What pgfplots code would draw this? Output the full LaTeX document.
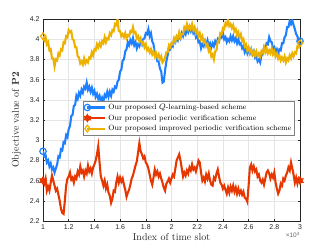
\documentclass[border=0pt]{standalone}
\usepackage{pgfplots}
\pgfplotsset{compat=1.18}
\usepackage{fontspec}
\newfontfamily\ticksf{Liberation Sans}
\definecolor{qblue}{RGB}{30,128,255}
\definecolor{pred}{RGB}{230,55,0}
\definecolor{iyel}{RGB}{237,177,0}
\definecolor{axgray}{RGB}{38,38,38}
\pgfdeclareplotmark{hexa}{%
  \pgfpathmoveto{\pgfpointpolar{90}{\pgfplotmarksize}}%
  \pgfpathlineto{\pgfpointpolar{120}{0.577\pgfplotmarksize}}%
  \pgfpathlineto{\pgfpointpolar{150}{\pgfplotmarksize}}%
  \pgfpathlineto{\pgfpointpolar{180}{0.577\pgfplotmarksize}}%
  \pgfpathlineto{\pgfpointpolar{210}{\pgfplotmarksize}}%
  \pgfpathlineto{\pgfpointpolar{240}{0.577\pgfplotmarksize}}%
  \pgfpathlineto{\pgfpointpolar{270}{\pgfplotmarksize}}%
  \pgfpathlineto{\pgfpointpolar{300}{0.577\pgfplotmarksize}}%
  \pgfpathlineto{\pgfpointpolar{330}{\pgfplotmarksize}}%
  \pgfpathlineto{\pgfpointpolar{0}{0.577\pgfplotmarksize}}%
  \pgfpathlineto{\pgfpointpolar{30}{\pgfplotmarksize}}%
  \pgfpathlineto{\pgfpointpolar{60}{0.577\pgfplotmarksize}}%
  \pgfpathclose\pgfusepathqfillstroke}
\pgfplotstableread{
x y
1.00 2.89
1.01 2.84
1.02 2.85
1.03 2.78
1.04 2.80
1.05 2.74
1.06 2.77
1.07 2.71
1.08 2.73
1.09 2.68
1.10 2.72
1.11 2.76
1.12 2.84
1.13 2.83
1.14 2.91
1.15 2.90
1.16 2.98
1.17 2.97
1.18 3.05
1.19 3.03
1.20 3.11
1.21 3.14
1.22 3.24
1.23 3.25
1.24 3.34
1.25 3.35
1.26 3.44
1.27 3.41
1.28 3.47
1.29 3.44
1.30 3.50
1.31 3.47
1.32 3.53
1.33 3.51
1.34 3.57
1.35 3.50
1.36 3.53
1.37 3.48
1.38 3.52
1.39 3.46
1.40 3.49
1.41 3.43
1.42 3.46
1.43 3.41
1.44 3.44
1.45 3.38
1.46 3.42
1.47 3.38
1.48 3.45
1.49 3.43
1.50 3.48
1.51 3.43
1.52 3.48
1.53 3.44
1.54 3.50
1.55 3.48
1.56 3.53
1.57 3.52
1.58 3.58
1.59 3.60
1.60 3.68
1.61 3.70
1.62 3.79
1.63 3.80
1.64 3.88
1.65 3.90
1.66 3.97
1.67 3.94
1.68 3.99
1.69 3.96
1.70 4.01
1.71 3.94
1.72 3.97
1.73 3.91
1.74 3.95
1.75 3.93
1.76 3.98
1.77 3.95
1.78 4.00
1.79 4.01
1.80 4.06
1.81 4.05
1.82 4.10
1.83 4.03
1.84 4.06
1.85 3.98
1.86 3.95
1.87 3.86
1.88 3.85
1.89 3.78
1.90 3.78
1.91 3.71
1.92 3.68
1.93 3.57
1.94 3.58
1.95 3.69
1.96 3.78
1.97 3.84
1.98 3.91
1.99 3.90
2.00 3.95
2.01 3.93
2.02 3.99
2.03 3.97
2.04 4.02
2.05 3.99
2.06 4.04
2.07 4.01
2.08 4.06
2.09 4.03
2.10 4.08
2.11 4.05
2.12 4.10
2.13 4.07
2.14 4.12
2.15 4.08
2.16 4.12
2.17 4.06
2.18 4.08
2.19 4.02
2.20 4.04
2.21 3.97
2.22 3.98
2.23 3.91
2.24 3.95
2.25 3.93
2.26 3.98
2.27 3.95
2.28 3.99
2.29 3.93
2.30 3.96
2.31 3.92
2.32 3.96
2.33 3.93
2.34 3.98
2.35 3.95
2.36 4.00
2.37 3.98
2.38 4.04
2.39 4.02
2.40 4.06
2.41 4.00
2.42 4.02
2.43 3.97
2.44 4.00
2.45 3.98
2.46 4.03
2.47 3.99
2.48 4.03
2.49 3.98
2.50 4.01
2.51 3.96
2.52 4.00
2.53 3.95
2.54 3.96
2.55 3.91
2.56 3.93
2.57 3.87
2.58 3.90
2.59 3.86
2.60 3.90
2.61 3.86
2.62 3.90
2.63 3.85
2.64 3.88
2.65 3.82
2.66 3.84
2.67 3.78
2.68 3.80
2.69 3.77
2.70 3.84
2.71 3.85
2.72 3.92
2.73 3.90
2.74 3.96
2.75 3.95
2.76 4.02
2.77 3.98
2.78 3.97
2.79 3.90
2.80 3.92
2.81 3.87
2.82 3.90
2.83 3.86
2.84 3.90
2.85 3.89
2.86 3.96
2.87 3.96
2.88 4.02
2.89 4.04
2.90 4.12
2.91 4.12
2.92 4.18
2.93 4.15
2.94 4.19
2.95 4.14
2.96 4.10
2.97 4.05
2.98 4.03
2.99 3.97
3.00 3.98
}\qlearn
\pgfplotstableread{
x y
1.00 2.60
1.01 2.57
1.02 2.62
1.03 2.50
1.04 2.54
1.05 2.50
1.06 2.58
1.07 2.65
1.08 2.60
1.09 2.55
1.10 2.50
1.11 2.52
1.12 2.46
1.13 2.40
1.14 2.32
1.15 2.28
1.16 2.27
1.17 2.40
1.18 2.55
1.19 2.62
1.20 2.64
1.21 2.68
1.22 2.61
1.23 2.63
1.24 2.58
1.25 2.64
1.26 2.62
1.27 2.69
1.28 2.66
1.29 2.74
1.30 2.68
1.31 2.70
1.32 2.64
1.33 2.70
1.34 2.67
1.35 2.75
1.36 2.69
1.37 2.72
1.38 2.67
1.39 2.73
1.40 2.76
1.41 2.80
1.42 2.86
1.43 2.94
1.44 2.78
1.45 2.64
1.46 2.60
1.47 2.55
1.48 2.60
1.49 2.52
1.50 2.56
1.51 2.48
1.52 2.45
1.53 2.38
1.54 2.42
1.55 2.50
1.56 2.49
1.57 2.58
1.58 2.64
1.59 2.58
1.60 2.63
1.61 2.59
1.62 2.62
1.63 2.56
1.64 2.51
1.65 2.44
1.66 2.48
1.67 2.51
1.68 2.56
1.69 2.62
1.70 2.65
1.71 2.70
1.72 2.75
1.73 2.79
1.74 2.88
1.75 2.97
1.76 2.89
1.77 2.86
1.78 2.82
1.79 2.84
1.80 2.78
1.81 2.76
1.82 2.72
1.83 2.66
1.84 2.60
1.85 2.56
1.86 2.63
1.87 2.71
1.88 2.66
1.89 2.69
1.90 2.64
1.91 2.67
1.92 2.62
1.93 2.58
1.94 2.53
1.95 2.50
1.96 2.57
1.97 2.59
1.98 2.62
1.99 2.58
2.00 2.62
2.01 2.66
2.02 2.64
2.03 2.72
2.04 2.80
2.05 2.83
2.06 2.86
2.07 2.80
2.08 2.72
2.09 2.64
2.10 2.68
2.11 2.65
2.12 2.70
2.13 2.67
2.14 2.73
2.15 2.70
2.16 2.76
2.17 2.71
2.18 2.73
2.19 2.69
2.20 2.74
2.21 2.80
2.22 2.78
2.23 2.68
2.24 2.60
2.25 2.63
2.26 2.59
2.27 2.66
2.28 2.62
2.29 2.67
2.30 2.60
2.31 2.56
2.32 2.55
2.33 2.63
2.34 2.61
2.35 2.67
2.36 2.71
2.37 2.64
2.38 2.58
2.39 2.56
2.40 2.52
2.41 2.55
2.42 2.51
2.43 2.47
2.44 2.53
2.45 2.48
2.46 2.54
2.47 2.50
2.48 2.55
2.49 2.49
2.50 2.53
2.51 2.47
2.52 2.52
2.53 2.47
2.54 2.50
2.55 2.46
2.56 2.49
2.57 2.43
2.58 2.42
2.59 2.39
2.60 2.55
2.61 2.73
2.62 2.76
2.63 2.70
2.64 2.74
2.65 2.69
2.66 2.71
2.67 2.64
2.68 2.66
2.69 2.60
2.70 2.58
2.71 2.61
2.72 2.56
2.73 2.62
2.74 2.68
2.75 2.70
2.76 2.67
2.77 2.62
2.78 2.66
2.79 2.63
2.80 2.68
2.81 2.58
2.82 2.52
2.83 2.47
2.84 2.50
2.85 2.57
2.86 2.55
2.87 2.62
2.88 2.60
2.89 2.65
2.90 2.68
2.91 2.73
2.92 2.70
2.93 2.78
2.94 2.72
2.95 2.66
2.96 2.58
2.97 2.63
2.98 2.57
2.99 2.62
3.00 2.60
}\periodic
\pgfplotstableread{
x y
1.00 4.03
1.01 3.99
1.02 4.02
1.03 3.95
1.04 3.97
1.05 3.89
1.06 3.90
1.07 3.81
1.08 3.81
1.09 3.73
1.10 3.80
1.11 3.79
1.12 3.86
1.13 3.84
1.14 3.90
1.15 3.89
1.16 3.97
1.17 3.96
1.18 4.03
1.19 4.02
1.20 4.09
1.21 4.07
1.22 4.08
1.23 4.00
1.24 3.99
1.25 3.92
1.26 3.92
1.27 3.83
1.28 3.82
1.29 3.76
1.30 3.78
1.31 3.75
1.32 3.81
1.33 3.76
1.34 3.79
1.35 3.77
1.36 3.82
1.37 3.81
1.38 3.87
1.39 3.84
1.40 3.90
1.41 3.89
1.42 3.95
1.43 3.92
1.44 3.96
1.45 3.93
1.46 3.98
1.47 3.96
1.48 4.02
1.49 3.97
1.50 4.01
1.51 4.00
1.52 4.06
1.53 4.04
1.54 4.09
1.55 4.08
1.56 4.15
1.57 4.14
1.58 4.20
1.59 4.08
1.60 4.08
1.61 4.03
1.62 4.05
1.63 4.02
1.64 4.06
1.65 4.01
1.66 4.04
1.67 4.03
1.68 4.08
1.69 4.07
1.70 4.12
1.71 4.06
1.72 4.07
1.73 4.01
1.74 4.03
1.75 3.98
1.76 4.01
1.77 3.95
1.78 3.97
1.79 3.92
1.80 3.95
1.81 3.89
1.82 3.91
1.83 3.87
1.84 3.90
1.85 3.85
1.86 3.88
1.87 3.83
1.88 3.86
1.89 3.82
1.90 3.85
1.91 3.80
1.92 3.83
1.93 3.77
1.94 3.79
1.95 3.82
1.96 3.87
1.97 3.87
1.98 3.94
1.99 3.92
2.00 3.96
2.01 3.95
2.02 4.01
2.03 3.98
2.04 4.03
2.05 4.01
2.06 4.07
2.07 4.02
2.08 4.05
2.09 4.05
2.10 4.12
2.11 4.10
2.12 4.15
2.13 4.10
2.14 4.13
2.15 4.10
2.16 4.15
2.17 4.09
2.18 4.12
2.19 4.06
2.20 4.09
2.21 4.03
2.22 4.06
2.23 4.00
2.24 4.03
2.25 3.97
2.26 3.99
2.27 3.93
2.28 3.95
2.29 3.88
2.30 3.90
2.31 3.83
2.32 3.85
2.33 3.80
2.34 3.88
2.35 3.89
2.36 3.98
2.37 3.98
2.38 4.06
2.39 4.05
2.40 4.11
2.41 4.10
2.42 4.16
2.43 4.14
2.44 4.19
2.45 4.13
2.46 4.15
2.47 4.11
2.48 4.14
2.49 4.08
2.50 4.10
2.51 4.04
2.52 4.07
2.53 4.02
2.54 4.05
2.55 3.98
2.56 4.00
2.57 3.93
2.58 3.95
2.59 3.89
2.60 3.92
2.61 3.87
2.62 3.90
2.63 3.85
2.64 3.88
2.65 3.84
2.66 3.88
2.67 3.83
2.68 3.86
2.69 3.83
2.70 3.88
2.71 3.86
2.72 3.92
2.73 3.87
2.74 3.91
2.75 3.86
2.76 3.89
2.77 3.86
2.78 3.91
2.79 3.85
2.80 3.88
2.81 3.83
2.82 3.86
2.83 3.81
2.84 3.84
2.85 3.79
2.86 3.82
2.87 3.79
2.88 3.83
2.89 3.77
2.90 3.81
2.91 3.79
2.92 3.84
2.93 3.81
2.94 3.86
2.95 3.83
2.96 3.87
2.97 3.86
2.98 3.93
2.99 3.92
3.00 3.96
}\improved
\begin{document}
\begin{tikzpicture}
\begin{axis}[
  scale only axis,
  width=257bp, height=202bp,
  xmin=1, xmax=3, ymin=2.2, ymax=4.2,
  xtick={1,1.2,...,3.01},
  ytick={2.2,2.4,...,4.21},
  grid=major,
  major grid style={draw=black!10, line width=0.4pt},
  axis line style={draw=axgray, line width=0.5pt},
  tick style={draw=axgray, line width=0.5pt},
  tick align=inside,
  major tick length=2.5bp,
  xtick pos=both, ytick pos=both,
  tick label style={font=\ticksf\fontsize{7}{8}\selectfont, text=axgray},
  /pgf/number format/assume math mode=true,
  xticklabel style={yshift=-0.5bp},
  xlabel={Index of time slot},
  ylabel={Objective value of \textbf{P2}},
  label style={font=\fontsize{10}{11}\selectfont, text=axgray},
  xlabel style={yshift=3bp},
  ylabel style={yshift=2bp},
  legend style={at={(0.155,0.595)}, anchor=north west, draw=black!50, fill=white,
    font=\fontsize{7.6}{9.5}\selectfont, inner sep=1pt, row sep=-0.3pt, line width=0.5pt,
    cells={anchor=west}},
  legend image code/.code={
    \draw[mark repeat=2, mark phase=2, #1] plot coordinates {(0bp,0bp) (9bp,0bp) (18bp,0bp)};},
  clip=true,
]
\addplot[qblue, line width=2.1pt, mark=o, mark size=3.2bp, mark options={line width=1.2pt, fill=none, solid}, mark indices={1,201}] table[x=x,y=y] {\qlearn};
\addlegendentry{Our proposed $Q$-learning-based scheme}
\addplot[pred, line width=2.1pt, mark=hexa, mark size=3.8bp, mark options={line width=0.8pt, fill=pred, solid}, mark indices={1,201}] table[x=x,y=y] {\periodic};
\addlegendentry{Our proposed periodic verification scheme}
\addplot[iyel, line width=2.1pt, mark=diamond, mark size=3.4bp, mark options={line width=1.2pt, fill=none, solid}, mark indices={1,201}] table[x=x,y=y] {\improved};
\addlegendentry{Our proposed improved periodic verification scheme}
\end{axis}
\node[anchor=north east, inner sep=0pt, font=\ticksf\fontsize{6.5}{7}\selectfont, text=black!60] at (current axis.south east) [yshift=-11bp] {×10\textsuperscript{4}};
\path (current axis.south west) ++(-43bp,-28bp) coordinate (bl);
\path (current axis.north east) ++(31bp,19bp) coordinate (tr);
\useasboundingbox (bl) rectangle (tr);
\end{tikzpicture}
\end{document}
